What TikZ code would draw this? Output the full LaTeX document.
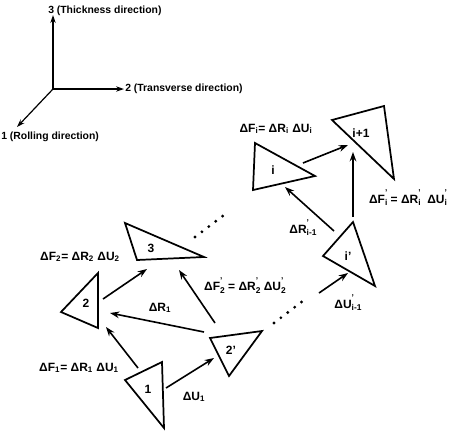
\documentclass[tikz,border=0pt]{standalone}
\usepackage{fontspec}
\setmainfont{Liberation Sans}
\usetikzlibrary{arrows.meta}
\newcommand{\lo}[1]{\textsubscript{#1}}
\newcommand{\pl}[1]{\raisebox{-2.2pt}{\fontsize{6.3}{7}\selectfont\shortstack[l]{'\\#1}}}
\begin{document}
\begin{tikzpicture}[x=0.75pt,y=-0.75pt,
  tri/.style={line width=1.3pt, line join=miter},
  arr/.style={line width=1.2pt,-{Stealth[length=7pt,width=5pt]}},
  axarr/.style={line width=0.9pt,-{Stealth[length=6pt,width=4pt]}},
  dotline/.style={line width=2.4pt, line cap=round, dash pattern=on 0pt off 6.5pt},
  lab/.style={font=\bfseries\fontsize{9}{10}\selectfont, inner sep=0pt},
  ax/.style={font=\bfseries\fontsize{7.8}{9}\selectfont, inner sep=0pt}]
\useasboundingbox (0,0) rectangle (457,430);
% axes
\coordinate (O) at (53,89);
\coordinate (A3) at (53,15);
\coordinate (A2) at (124,89);
\coordinate (A1) at (17,127);
\draw[axarr] (O) -- (A3);
\draw[axarr] (O) -- (A2);
\draw[axarr] (O) -- (A1);
\node[ax, anchor=west] (l3) at (48,11) {3 (Thickness direction)};
\node[ax, anchor=west] (l2) at (125,89) {2 (Transverse direction)};
\node[ax, anchor=west] (l1) at (1,137) {1 (Rolling direction)};
% triangles
\draw[tri] (125,380) -- (162,362) -- (164,428) -- cycle;
\node[lab] (t1) at (148,389) {1};
\draw[tri] (61,312) -- (98,273) -- (98,328) -- cycle;
\node[lab] (t2) at (86,303) {2};
\draw[tri] (125,223) -- (204,257) -- (137,260) -- cycle;
\node[lab] (t3) at (151,248) {3};
\draw[tri] (210,338) -- (262,331) -- (229,376) -- cycle;
\node[lab] (t2p) at (231,350) {2'};
\draw[tri] (323,256) -- (353,222) -- (375,286) -- cycle;
\node[lab] (tip) at (348,256) {i'};
\draw[tri] (255,143) -- (315,176) -- (253,190) -- cycle;
\node[lab] (ti) at (273,170) {i};
\draw[tri] (332,120) -- (384,106) -- (394,179) -- cycle;
\node[lab] (tin) at (361,133) {i+1};
% connector ends
\coordinate (a1s) at (138,368); \coordinate (a1e) at (106,327);
\coordinate (b1s) at (166,388); \coordinate (b1e) at (214,358);
\coordinate (r1s) at (204,332); \coordinate (r1e) at (110,313);
\coordinate (c2s) at (103,299); \coordinate (c2e) at (147,269);
\coordinate (d2s) at (215,323); \coordinate (d2e) at (179,270);
\coordinate (p3s) at (195,237); \coordinate (p3e) at (228,212);
\coordinate (q2s) at (274,323); \coordinate (q2e) at (308,297);
\coordinate (e2s) at (319,293); \coordinate (e2e) at (348,273);
\coordinate (fis) at (334,231); \coordinate (fie) at (285,187);
\coordinate (gis) at (353,217); \coordinate (gie) at (353,152);
\coordinate (his) at (303,163); \coordinate (hie) at (348,145);
\draw[arr] (a1s) -- (a1e);
\draw[arr] (b1s) -- (b1e);
\draw[arr] (r1s) -- (r1e);
\draw[arr] (c2s) -- (c2e);
\draw[arr] (d2s) -- (d2e);
\draw[dotline] (p3s) -- (p3e);
\draw[dotline] (q2s) -- (q2e);
\draw[arr] (e2s) -- (e2e);
\draw[arr] (fis) -- (fie);
\draw[arr] (gis) -- (gie);
\draw[arr] (his) -- (hie);
% labels
\node[lab] (f1) at (79,368) {ΔF\lo{1}= ΔR\lo{1} ΔU\lo{1}};
\node[lab] (u1) at (194,397) {ΔU\lo{1}};
\node[lab] (r1) at (160,308) {ΔR\lo{1}};
\node[lab] (f2) at (80,257) {ΔF\lo{2}= ΔR\lo{2} ΔU\lo{2}};
\node[lab] (f2p) at (245,286) {ΔF\pl{2} = ΔR\pl{2} ΔU\pl{2}};
\node[lab] (rip) at (303,228) {ΔR\pl{i-1}};
\node[lab] (uip) at (348,303) {ΔU\pl{i-1}};
\node[lab] (fip) at (408,198) {ΔF\pl{i}\ = ΔR\pl{i}\ \ ΔU\pl{i}};
\node[lab] (fi) at (276,129) {ΔF\lo{i}= ΔR\lo{i} ΔU\lo{i}};
\end{tikzpicture}
\end{document}
